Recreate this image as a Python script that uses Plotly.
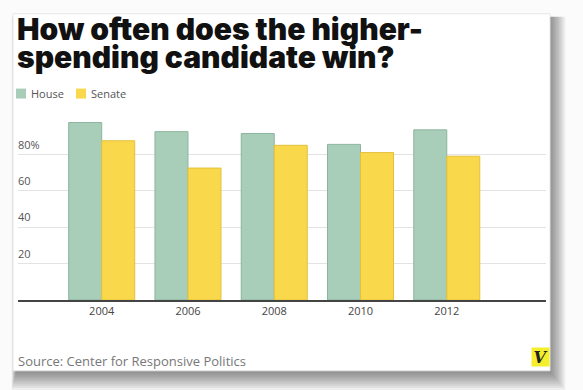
import plotly.graph_objects as go

years = ["2004", "2006", "2008", "2010", "2012"]
house = [97.5, 92.5, 91.5, 85.5, 93.5]
senate = [87.5, 72.5, 85, 81, 79]
series_names = ["House", "Senate"]
tick_vals = [20, 40, 60, 80]
tick_text = ["20", "40", "60", "80%"]

W, H = 583, 390
L, R, T, B = 18, 546, 117.5, 300  # plot area in pixels

def px(x):
    return (x - L) / (R - L)

def py(y):
    return (B - y) / (B - T)

GREEN = "#a8ceb9"
GREEN_EDGE = "#8db49f"
YELLOW = "#f9d84b"
YELLOW_EDGE = "#e2c03c"

fig = go.Figure()
fig.add_trace(go.Bar(x=years, y=house, name=series_names[0], marker=dict(color=GREEN, line=dict(color=GREEN_EDGE, width=1))))
fig.add_trace(go.Bar(x=years, y=senate, name=series_names[1], marker=dict(color=YELLOW, line=dict(color=YELLOW_EDGE, width=1))))

shapes = []
# card shadow
for i in range(10):
    e = i * 1.6
    shapes.append(dict(type="rect", xref="paper", yref="paper", layer="below",
                       x0=px(16 - e * 0.3), x1=px(551 + e), y0=py(373 + e * 1.2), y1=py(16),
                       fillcolor="rgba(0,0,0,0.05)", line=dict(width=0)))
# card
shapes.append(dict(type="rect", xref="paper", yref="paper", layer="below",
                   x0=px(13), x1=px(550), y0=py(371), y1=py(13),
                   fillcolor="white", line=dict(color="#e6e6e6", width=1)))
# legend swatches
legend_x = [16, 76]
legend_colors = [GREEN, YELLOW]
annotations = []
for i, name in enumerate(series_names):
    shapes.append(dict(type="rect", xref="paper", yref="paper",
                       x0=px(legend_x[i]), x1=px(legend_x[i] + 10), y0=py(98), y1=py(88),
                       fillcolor=legend_colors[i], line=dict(width=0)))
    annotations.append(dict(xref="paper", yref="paper", x=px(legend_x[i] + 13), y=py(93),
                            xanchor="left", yanchor="middle", showarrow=False, text=name,
                            font=dict(family="Open Sans", size=11, color="#555")))

# title
title_lines = ["How often does the higher-", "spending candidate win?"]
for i, line in enumerate(title_lines):
    annotations.append(dict(xref="paper", yref="paper", x=px(15), y=py(28 + 28 * i),
                            xanchor="left", yanchor="middle", showarrow=False, text=line,
                            font=dict(family="Inter", size=30, color="#111", weight=900)))

annotations.append(dict(xref="paper", yref="paper", x=px(16), y=py(361), xanchor="left", yanchor="middle",
                        showarrow=False, text="Source: Center for Responsive Politics",
                        font=dict(family="Open Sans", size=13, color="#777")))
annotations.append(dict(xref="paper", yref="paper", x=px(550), y=py(357), xanchor="right", yanchor="middle",
                        showarrow=False, text="<b><i>V</i></b>", bgcolor="#f4ee2c", borderpad=0,
                        width=17, height=18,
                        font=dict(family="DejaVu Serif", size=16, color="#222")))

fig.update_layout(
    width=W, height=H,
    margin=dict(l=L, r=W - R, t=T, b=H - B),
    paper_bgcolor="#fbfbfb", plot_bgcolor="rgba(0,0,0,0)",
    barmode="group", bargap=0.235, bargroupgap=0,
    showlegend=False,
    shapes=shapes, annotations=annotations,
    xaxis=dict(type="category", range=[-0.97, 5.15], showline=True, linecolor="#444", linewidth=1.5,
               ticks="", showgrid=False,
               tickfont=dict(family="Open Sans", size=11, color="#444")),
    yaxis=dict(range=[0, 100], tickvals=tick_vals, ticktext=tick_text, showgrid=True,
               gridcolor="#e3e3e3", gridwidth=1, zeroline=False, showline=False,
               ticklabelposition="inside top", ticks="", ticklabelstandoff=-3, ticklabelshift=-2,
               tickfont=dict(family="Open Sans", size=11, color="#555")),
)
fig.write_html("out.html", config={"displayModeBar": False},
               post_script="document.body.style.margin='0';")
